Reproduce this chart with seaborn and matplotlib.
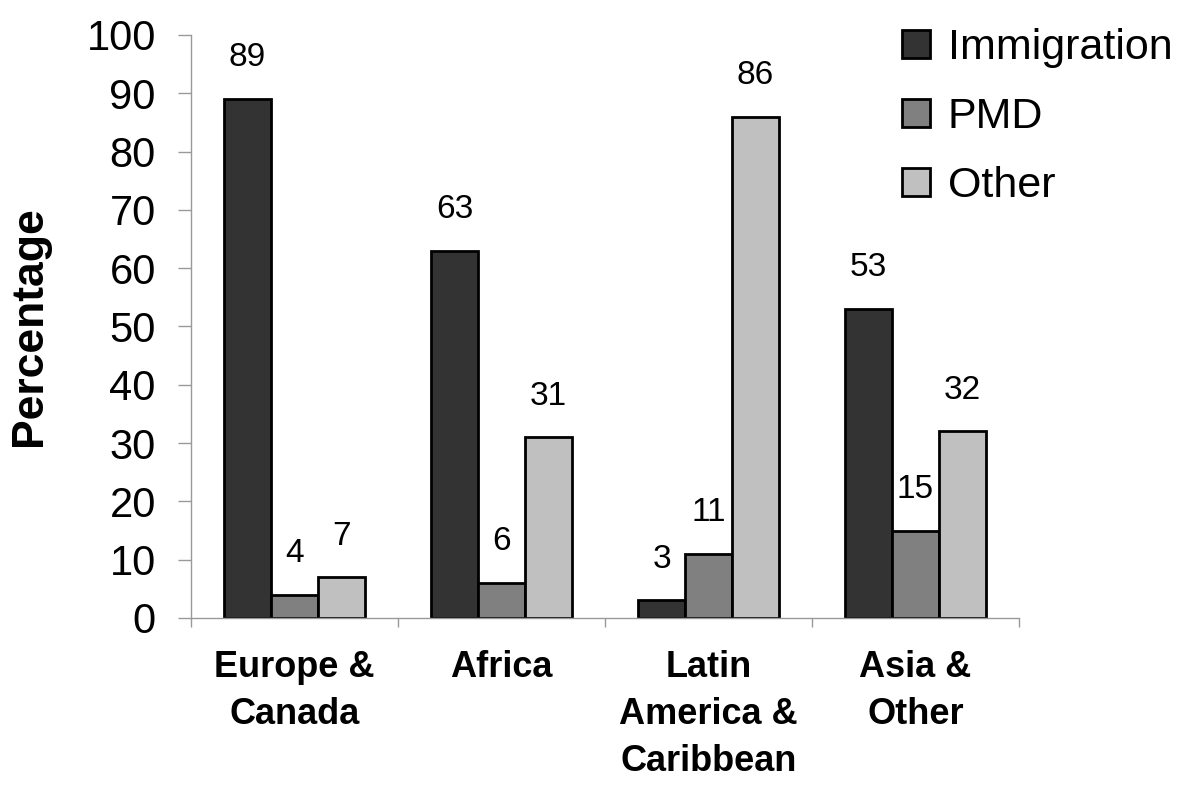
import numpy as np
import pandas as pd
import matplotlib
matplotlib.use("Agg")
import matplotlib.pyplot as plt
import seaborn as sns

regions = ["Europe &\nCanada", "Africa", "Latin\nAmerica &\nCaribbean", "Asia &\nOther"]
series = ["Immigration", "PMD", "Other"]
immigration = [89, 63, 3, 53]
pmd = [4, 6, 11, 15]
other = [7, 31, 86, 32]
colors = ["#333333", "#808080", "#c0c0c0"]
yticks = list(range(0, 101, 10))

sns.set_style("ticks")
plt.rcParams["font.family"] = ["Liberation Sans", "DejaVu Sans"]
plt.rcParams.update({"text.color": "black", "axes.labelcolor": "black",
                     "xtick.labelcolor": "black", "ytick.labelcolor": "black"})

df = pd.DataFrame({
    "region": regions * 3,
    "series": [s for s in series for _ in regions],
    "pct": immigration + pmd + other,
})

fig = plt.figure(figsize=(12, 7.98), dpi=100)
ax = fig.add_axes([0.1592, 0.2256, 0.69, 0.7306])

sns.barplot(data=df, x="region", y="pct", hue="series", order=regions,
            hue_order=series, palette=colors, saturation=1, width=0.68,
            edgecolor="black", linewidth=2, ax=ax, errorbar=None)

# value labels above each bar
for cont in ax.containers:
    for bar in cont:
        h = bar.get_height()
        ax.annotate(f"{h:g}", xy=(bar.get_x() + bar.get_width() / 2, h),
                    xytext=(0, 23.5), textcoords="offset points",
                    ha="center", va="baseline", fontsize=24, color="black")

ax.set_ylim(0, 100)
ax.set_xlim(-0.5, len(regions) - 0.5)
ax.set_yticks(yticks)
ax.set_xticks(np.arange(-0.5, len(regions), 1), minor=True)

for side in ["top", "right"]:
    ax.spines[side].set_visible(False)
for side in ["left", "bottom"]:
    ax.spines[side].set_color("#999999")
    ax.spines[side].set_linewidth(1)

ax.tick_params(axis="y", labelsize=30, length=9.4, width=1, color="#999999",
               labelcolor="black", pad=16)
ax.tick_params(axis="x", which="major", length=0, pad=23, labelsize=26,
               labelcolor="black")
ax.tick_params(axis="x", which="minor", length=6.5, width=1, color="#999999")
for lbl in ax.get_xticklabels():
    lbl.set_fontweight("bold")
    lbl.set_linespacing(1.45)

ax.set_xlabel("")
ax.set_ylabel("Percentage", fontsize=32, fontweight="bold", labelpad=26,
              color="black")

handles, labels = ax.get_legend_handles_labels()
ax.legend(handles, labels, loc="upper left", bbox_to_anchor=(0.752, 0.965),
          bbox_transform=fig.transFigure, frameon=False, fontsize=31,
          handlelength=0.63, handleheight=0.63, handletextpad=0.42,
          labelspacing=0.68, borderpad=0, borderaxespad=0, labelcolor="black")

plt.savefig("out.png", dpi=100)
plt.close()
